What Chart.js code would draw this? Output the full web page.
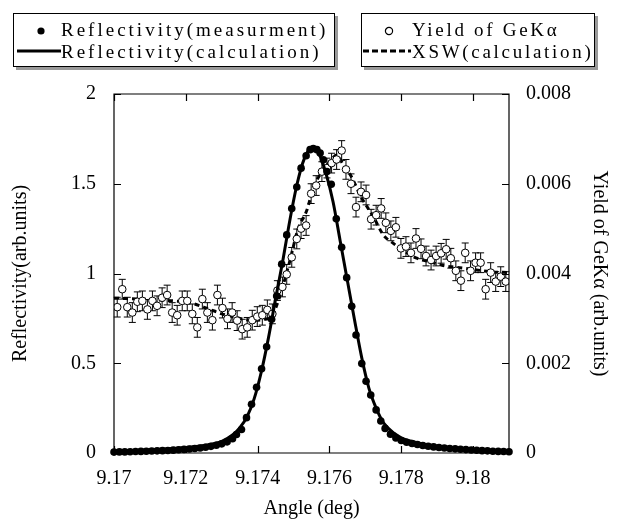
<!DOCTYPE html>
<html>
<head>
<meta charset="utf-8">
<script src="https://cdn.jsdelivr.net/npm/chart.js@4.4.1/dist/chart.umd.min.js"></script>
<style>
  body { margin:0; background:#fff; }
  #wrap { position:relative; width:621px; height:523px; }
  .lg { position:absolute; border:1.5px solid #000; box-shadow:3px 3px 0 #999; background:#fff;
        font-family:'Liberation Serif','Times New Roman',serif; font-size:19px; color:#000; }
  .row { position:absolute; white-space:nowrap; line-height:22px; }
  .lg svg { position:absolute; }
</style>
</head>
<body>
<div id="wrap">
  <canvas id="chart" width="621" height="523"></canvas>
  <div class="lg" style="left:13px;top:13px;width:320px;height:52px;letter-spacing:3px">
    <svg style="left:20px;top:10px" width="14" height="14"><circle cx="7" cy="7" r="3.6" fill="#000"/></svg>
    <div class="row" style="left:47px;top:5px">Reflectivity(measurment)</div>
    <svg style="left:3px;top:33px" width="44" height="8"><line x1="0" y1="4" x2="44" y2="4" stroke="#000" stroke-width="3"/></svg>
    <div class="row" style="left:47px;top:27px">Reflectivity(calculation)</div>
  </div>
  <div class="lg" style="left:361px;top:13px;width:232px;height:52px;letter-spacing:2.7px">
    <svg style="left:20px;top:10px" width="14" height="14"><circle cx="7" cy="7" r="3.6" fill="none" stroke="#000" stroke-width="1.2"/></svg>
    <div class="row" style="left:50px;top:5px">Yield of GeKα</div>
    <svg style="left:1px;top:33px" width="48" height="8"><line x1="0" y1="4" x2="48" y2="4" stroke="#000" stroke-width="3" stroke-dasharray="6 3"/></svg>
    <div class="row" style="left:50px;top:27px">XSW(calculation)</div>
  </div>
</div>
<script>
// x tick labels
const xTicks = [9.17, 9.172, 9.174, 9.176, 9.178, 9.18];

// reflectivity, measured (filled dots)
const reflMeasX = [9.1700, 9.17015, 9.1703, 9.17045, 9.1706, 9.17075, 9.1709, 9.17105, 9.1712, 9.17135,
  9.1715, 9.17165, 9.1718, 9.17195, 9.1721, 9.17225, 9.1724, 9.17255, 9.1727, 9.17285,
  9.1730, 9.17315, 9.1733, 9.17341, 9.17355, 9.17369, 9.17383, 9.17397, 9.17411, 9.17425,
  9.17439, 9.17453, 9.17467, 9.17481, 9.17495, 9.17509, 9.17521, 9.17535, 9.17546, 9.17555,
  9.17565, 9.17574, 9.17583, 9.17593, 9.17605, 9.17619, 9.17634, 9.17648, 9.17662, 9.17674,
  9.1769, 9.17702, 9.17715, 9.1773, 9.17743, 9.17755, 9.1777, 9.17785, 9.178, 9.17815,
  9.1783, 9.17845, 9.1786, 9.17875, 9.1789, 9.17905, 9.1792, 9.17935, 9.1795, 9.17965,
  9.1798, 9.17995, 9.1801, 9.18025, 9.1804, 9.18055, 9.1807, 9.18085, 9.181];
const reflMeasY = [0.005, 0.006, 0.006, 0.007, 0.008, 0.009, 0.010, 0.011, 0.012, 0.013,
  0.014, 0.016, 0.018, 0.020, 0.022, 0.025, 0.028, 0.032, 0.037, 0.043,
  0.051, 0.062, 0.080, 0.103, 0.131, 0.197, 0.272, 0.366, 0.469, 0.592,
  0.745, 0.875, 1.052, 1.215, 1.362, 1.482, 1.587, 1.656, 1.690, 1.696,
  1.690, 1.671, 1.634, 1.568, 1.497, 1.305, 1.146, 0.977, 0.817, 0.657,
  0.498, 0.400, 0.323, 0.240, 0.178, 0.137, 0.105, 0.084, 0.070, 0.060,
  0.053, 0.047, 0.042, 0.038, 0.034, 0.031, 0.028, 0.025, 0.023, 0.021,
  0.019, 0.017, 0.015, 0.013, 0.012, 0.010, 0.009, 0.008, 0.007];

// reflectivity, calculated (solid line)
const reflCalcX = [9.170, 9.171, 9.172, 9.1725, 9.173, 9.1733, 9.1735, 9.1737, 9.1739, 9.1741,
  9.1743, 9.1745, 9.1747, 9.1749, 9.1751, 9.1753, 9.1755, 9.1757, 9.1759, 9.1761,
  9.1763, 9.1765, 9.1767, 9.1769, 9.1771, 9.1773, 9.1775, 9.1778, 9.178, 9.1785,
  9.179, 9.1795, 9.18, 9.181];
const reflCalcY = [0.010, 0.018, 0.030, 0.042, 0.065, 0.100, 0.140, 0.200, 0.300, 0.450,
  0.640, 0.860, 1.070, 1.300, 1.500, 1.640, 1.700, 1.670, 1.560, 1.400,
  1.180, 0.960, 0.740, 0.530, 0.360, 0.250, 0.170, 0.110, 0.085, 0.055,
  0.038, 0.028, 0.020, 0.012];

// yield of GeKa, measured (open circles, right axis)
const yieldX = [9.17009, 9.17023, 9.17037, 9.17051, 9.17065, 9.17079, 9.17093, 9.17107, 9.1712, 9.17134,
  9.17148, 9.17162, 9.17176, 9.1719, 9.17204, 9.17218, 9.17232, 9.17246, 9.1726, 9.17274,
  9.17288, 9.17302, 9.17316, 9.17329, 9.17343, 9.17357, 9.17371, 9.17385, 9.17399, 9.17413,
  9.17427, 9.17441, 9.17455, 9.17469, 9.17481, 9.17495, 9.17509, 9.17521, 9.17535, 9.17549,
  9.17563, 9.17579, 9.17593, 9.17606, 9.1762, 9.17634, 9.17646, 9.1766, 9.17674, 9.17688,
  9.17702, 9.17716, 9.1773, 9.17744, 9.17757, 9.17771, 9.17785, 9.17799, 9.17813, 9.17827,
  9.17841, 9.17855, 9.17869, 9.17883, 9.17897, 9.17911, 9.17925, 9.17938, 9.17952, 9.17966,
  9.17978, 9.17993, 9.18007, 9.18021, 9.18035, 9.18049, 9.18063, 9.18077, 9.18091];
const yieldY = [0.00325, 0.00365, 0.00325, 0.00313, 0.00337, 0.00339, 0.0032, 0.00339, 0.00328, 0.00346,
  0.00352, 0.00313, 0.00307, 0.00339, 0.00339, 0.0031, 0.0028, 0.00343, 0.00313, 0.00296,
  0.00352, 0.00323, 0.00299, 0.00313, 0.00295, 0.00276, 0.0028, 0.00296, 0.00304, 0.00307,
  0.00319, 0.0031, 0.00362, 0.0037, 0.00398, 0.00436, 0.00477, 0.005, 0.00507, 0.00578,
  0.00596, 0.00627, 0.00635, 0.00646, 0.00654, 0.00674, 0.00632, 0.006, 0.00548, 0.00582,
  0.00575, 0.00521, 0.0053, 0.00545, 0.00513, 0.00495, 0.00503, 0.00456, 0.0046, 0.00446,
  0.00478, 0.00455, 0.00439, 0.0043, 0.00439, 0.00445, 0.00454, 0.00434, 0.00406, 0.00384,
  0.00446, 0.00406, 0.00424, 0.00424, 0.00365, 0.00402, 0.00382, 0.00393, 0.00382];
const YIELD_ERR = 0.00022;

// XSW calculation (dashed, right axis)
const xswX = [9.170, 9.171, 9.1718, 9.1722, 9.1726, 9.173, 9.1734, 9.1738, 9.1742, 9.1744,
  9.1746, 9.17486, 9.17513, 9.17537, 9.17555, 9.17579, 9.17602, 9.1762, 9.1764, 9.17658,
  9.1769, 9.17722, 9.1775, 9.17778, 9.17801, 9.17843, 9.1788, 9.17922, 9.1795, 9.1801,
  9.18047, 9.181];
const xswY = [0.00345, 0.00342, 0.00338, 0.00333, 0.00322, 0.0031, 0.00302, 0.00296, 0.00298, 0.00306,
  0.00345, 0.00417, 0.005, 0.00541, 0.0059, 0.00627, 0.0065, 0.00664, 0.0064, 0.0062,
  0.00568, 0.00527, 0.00486, 0.00467, 0.00454, 0.00434, 0.00426, 0.00417, 0.00414, 0.00408,
  0.00404, 0.00402];

const pts = (xs, ys) => xs.map((x, i) => ({ x, y: ys[i] }));
const FONT = "'Liberation Serif','Times New Roman',serif";
const fmt = v => String(+v.toFixed(3));

// error bars of the yield points, drawn just before the circles
const errorBars = {
  id: 'errorBars',
  beforeDatasetDraw(chart, args) {
    if (args.index !== 2) return;
    const { ctx, scales: { x, y2 } } = chart;
    ctx.save();
    ctx.strokeStyle = '#000';
    ctx.lineWidth = 1;
    yieldX.forEach((v, i) => {
      const px = x.getPixelForValue(v);
      const top = y2.getPixelForValue(yieldY[i] + YIELD_ERR);
      const bot = y2.getPixelForValue(yieldY[i] - YIELD_ERR);
      ctx.beginPath();
      ctx.moveTo(px, top); ctx.lineTo(px, bot);
      ctx.moveTo(px - 3.5, top); ctx.lineTo(px + 3.5, top);
      ctx.moveTo(px - 3.5, bot); ctx.lineTo(px + 3.5, bot);
      ctx.stroke();
    });
    ctx.restore();
  }
};

// frame and inward tick marks on all four sides
const frame = {
  id: 'frame',
  afterDraw(chart) {
    const { ctx, chartArea: a, scales: { x, y, y2 } } = chart;
    ctx.save();
    ctx.strokeStyle = '#000';
    ctx.lineWidth = 1.2;
    ctx.beginPath();
    ctx.rect(a.left, a.top, a.right - a.left, a.bottom - a.top);
    xTicks.forEach(v => {
      const px = Math.round(x.getPixelForValue(v)) + 0.5;
      ctx.moveTo(px, a.bottom); ctx.lineTo(px, a.bottom - 7);
      ctx.moveTo(px, a.top); ctx.lineTo(px, a.top + 7);
    });
    y.ticks.forEach(t => {
      const py = Math.round(y.getPixelForValue(t.value)) + 0.5;
      ctx.moveTo(a.left, py); ctx.lineTo(a.left + 7, py);
    });
    y2.ticks.forEach(t => {
      const py = Math.round(y2.getPixelForValue(t.value)) + 0.5;
      ctx.moveTo(a.right, py); ctx.lineTo(a.right - 7, py);
    });
    ctx.stroke();
    ctx.restore();
  }
};

const tickFont = { family: FONT, size: 20 };
const titleFont = { family: FONT, size: 20 };

new Chart(document.getElementById('chart'), {
  type: 'scatter',
  data: {
    datasets: [
      { label: 'Reflectivity(measurment)', data: pts(reflMeasX, reflMeasY), yAxisID: 'y',
        pointRadius: 3.8, pointBackgroundColor: '#000', pointBorderWidth: 0, showLine: false, clip: false },
      { label: 'Reflectivity(calculation)', data: pts(reflCalcX, reflCalcY), yAxisID: 'y',
        showLine: true, pointRadius: 0, borderColor: '#000', borderWidth: 3, cubicInterpolationMode: 'monotone' },
      { label: 'Yield of GeKα', data: pts(yieldX, yieldY), yAxisID: 'y2',
        pointRadius: 3.8, pointBackgroundColor: '#fff', pointBorderColor: '#000', pointBorderWidth: 1, showLine: false },
      { label: 'XSW(calculation)', data: pts(xswX, xswY), yAxisID: 'y2',
        showLine: true, pointRadius: 0, borderColor: '#000', borderWidth: 3, borderDash: [5, 4],
        cubicInterpolationMode: 'monotone' }
    ]
  },
  options: {
    responsive: false,
    animation: false,
    events: [],
    layout: { padding: { top: 94, left: 0, right: 0, bottom: 0 } },
    plugins: { legend: { display: false }, tooltip: { enabled: false } },
    scales: {
      x: {
        type: 'linear', position: 'bottom', min: 9.17, max: 9.181,
        afterBuildTicks: s => { s.ticks = xTicks.map(v => ({ value: v })); },
        afterFit: s => { s.height = 70; },
        grid: { display: false },
        border: { display: false },
        ticks: { font: tickFont, color: '#000', padding: 6, maxRotation: 0, callback: fmt },
        title: { display: true, text: 'Angle (deg)', font: titleFont, color: '#000', padding: { top: 4, bottom: 2 } }
      },
      y: {
        position: 'left', min: 0, max: 2,
        afterFit: s => { s.width = 114; },
        grid: { display: false },
        border: { display: false },
        ticks: { stepSize: 0.5, font: tickFont, color: '#000', padding: 10, callback: fmt },
        title: { display: true, text: 'Reflectivity(arb.units)', font: titleFont, color: '#000', padding: { top: 9, bottom: 0 } }
      },
      y2: {
        position: 'right', min: 0, max: 0.008,
        afterFit: s => { s.width = 112; },
        grid: { display: false },
        border: { display: false },
        ticks: { stepSize: 0.002, font: tickFont, color: '#000', padding: 9, callback: fmt },
        title: { display: true, text: 'Yield of GeKα (arb.units)', font: titleFont, color: '#000', padding: { top: 10, bottom: 0 } }
      }
    }
  },
  plugins: [errorBars, frame]
});
</script>
</body>
</html>
